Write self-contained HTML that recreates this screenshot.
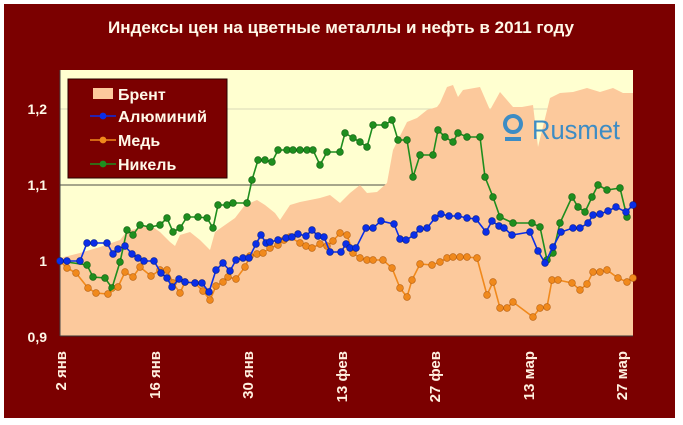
<!DOCTYPE html>
<html><head><meta charset="utf-8"><style>
html,body{margin:0;padding:0;background:#fff;}
svg{display:block;}
</style></head><body>
<svg width="683" height="425" viewBox="0 0 683 425" xmlns="http://www.w3.org/2000/svg" font-family="Liberation Sans, DejaVu Sans, sans-serif">
<defs>
<marker id="mb" markerWidth="8" markerHeight="8" refX="4" refY="4" markerUnits="userSpaceOnUse"><circle cx="4" cy="4" r="3.4" fill="#0a2ee8" stroke="#06208a" stroke-width="0.6"/></marker>
<marker id="mo" markerWidth="8" markerHeight="8" refX="4" refY="4" markerUnits="userSpaceOnUse"><circle cx="4" cy="4" r="3.4" fill="#f0891c" stroke="#b86010" stroke-width="0.6"/></marker>
<marker id="mg" markerWidth="8" markerHeight="8" refX="4" refY="4" markerUnits="userSpaceOnUse"><circle cx="4" cy="4" r="3.4" fill="#1e8e1e" stroke="#0f5e0f" stroke-width="0.6"/></marker>
</defs>
<rect x="0" y="0" width="683" height="425" fill="#fff"/>
<rect x="4" y="4" width="671" height="414" fill="#7b0000"/>
<text x="341" y="33" fill="#fff8e8" font-size="17" font-weight="bold" text-anchor="middle" textLength="466" lengthAdjust="spacingAndGlyphs">Индексы цен на цветные металлы и нефть в 2011 году</text>
<rect x="60" y="70" width="573" height="266" fill="#ffffd0"/>
<line x1="60" y1="109" x2="633" y2="109" stroke="#d8d8b8" stroke-width="1"/>
<line x1="60" y1="185" x2="633" y2="185" stroke="#707060" stroke-width="1.2"/>
<polygon fill="#fcc99c" points="60,336 60,258 80,253 100,247 120,240 127,231 140,228 150,225 160,232 170,242 175,246 180,235 190,232 200,240 210,250 215,232 225,225 235,218 245,205 257,200 265,205 275,213 280,220 290,205 300,202 310,200 320,198 330,195 340,203 350,193 360,185 367,193 377,192 387,183 393,150 407,122 417,118 427,110 437,107 440,103 447,87 453,85 458,97 463,90 480,87 490,110 500,92 513,107 522,107 533,105 538,147 550,98 560,93 573,92 587,88 600,92 613,88 623,93 633,93 633,336"/>
<line x1="60" y1="336" x2="633" y2="336" stroke="#333" stroke-width="1"/>
<line x1="60" y1="70" x2="60" y2="336" stroke="#444" stroke-width="1"/>
<g font-size="14" fill="#fff8e8" font-weight="bold" text-anchor="end">
<text x="47" y="114">1,2</text><text x="47" y="190">1,1</text><text x="47" y="266">1</text><text x="47" y="342">0,9</text>
</g>
<g font-size="15" fill="#fff0e0" font-weight="bold" text-anchor="end">
<text transform="translate(66,351) rotate(-90)">2 янв</text>
<text transform="translate(160,351) rotate(-90)">16 янв</text>
<text transform="translate(253,351) rotate(-90)">30 янв</text>
<text transform="translate(347,351) rotate(-90)">13 фев</text>
<text transform="translate(440,351) rotate(-90)">27 фев</text>
<text transform="translate(534,351) rotate(-90)">13 мар</text>
<text transform="translate(627,351) rotate(-90)">27 мар</text>
</g>
<!-- Rusmet logo -->
<circle cx="513" cy="124" r="8" fill="none" stroke="#3d8cc4" stroke-width="4"/>
<rect x="505" y="137" width="16" height="4" fill="#3d8cc4"/>
<text x="532" y="139" font-size="27" fill="#3d8cc4" textLength="88" lengthAdjust="spacingAndGlyphs">Rusmet</text>
<!-- nickel -->
<polyline fill="none" stroke="#1e8e1e" stroke-width="1.6" marker-start="url(#mg)" marker-mid="url(#mg)" marker-end="url(#mg)" points="60,261 87,265 93,277 105,278 112,288 120,262 127,230 133,235 140,225 150,227 160,225 167,218 173,232 180,228 187,217 198,217 207,218 213,228 218,205 227,205 233,203 247,203 252,180 258,160 265,160 272,162 278,150 287,150 293,150 300,150 307,150 313,150 320,165 327,152 340,152 345,133 353,138 360,142 367,147 373,125 385,125 392,120 398,140 407,140 413,177 420,155 433,155 438,130 445,137 453,142 458,133 467,137 480,137 485,177 493,197 500,217 513,223 532,223 540,227 547,260 553,253 560,223 572,197 578,207 585,212 592,197 598,185 607,190 620,188 627,217"/>
<!-- copper -->
<polyline fill="none" stroke="#f0891c" stroke-width="1.6" marker-start="url(#mo)" marker-mid="url(#mo)" marker-end="url(#mo)" points="60,261 67,268 76,273 88,288 96,293 108,294 118,287 125,272 133,277 140,267 151,276 160,270 167,270 173,283 180,293 185,282 195,283 203,291 210,300 216,286 223,282 228,277 236,279 245,267 250,256 257,254 263,253 270,248 278,245 284,240 290,237 300,243 306,246 312,248 320,244 327,246 333,241 340,233 347,235 353,253 360,258 367,260 373,260 383,260 392,268 400,288 407,297 412,280 420,264 432,265 440,262 447,258 453,257 460,257 467,257 477,258 487,295 493,282 500,308 507,308 513,302 533,317 540,308 547,307 552,280 558,280 572,283 580,290 587,284 593,272 600,272 607,270 618,278 627,282 633,278"/>
<!-- aluminium -->
<polyline fill="none" stroke="#0a2ee8" stroke-width="1.6" marker-start="url(#mb)" marker-mid="url(#mb)" marker-end="url(#mb)" points="60,261 67,261 80,261 87,243 94,243 107,243 113,254 118,249 125,246 132,254 138,258 144,261 154,261 161,273 167,278 172,287 179,279 185,282 195,283 202,283 209,292 216,270 223,263 230,271 236,260 243,258 249,258 256,244 261,235 266,243 270,242 278,240 286,238 292,237 298,234 306,236 312,230 318,236 324,237 330,252 341,252 346,244 350,248 356,248 366,228 373,228 381,221 394,224 400,239 406,240 414,235 420,229 427,228 435,218 441,214 449,216 458,216 467,218 476,219 486,232 492,221 499,226 504,228 512,235 530,232 538,251 545,263 553,247 561,232 573,228 580,228 588,223 593,215 600,214 608,211 616,207 626,212 633,205"/>
<!-- legend -->
<rect x="68" y="79" width="159" height="99" fill="#7b0000" stroke="#2a0000" stroke-width="1"/>
<g font-size="16" font-weight="bold" fill="#fff8e8">
<rect x="93" y="88" width="20" height="11" fill="#fcc99c"/>
<text x="118" y="100">Брент</text>
<line x1="90" y1="116" x2="116" y2="116" stroke="#0a2ee8" stroke-width="1.6"/><circle cx="103" cy="116" r="3.4" fill="#0a2ee8"/>
<text x="118" y="122" textLength="89" lengthAdjust="spacingAndGlyphs">Алюминий</text>
<line x1="90" y1="140" x2="116" y2="140" stroke="#f0891c" stroke-width="1.6"/><circle cx="103" cy="140" r="3.4" fill="#f0891c"/>
<text x="118" y="146">Медь</text>
<line x1="90" y1="164" x2="116" y2="164" stroke="#1e8e1e" stroke-width="1.6"/><circle cx="103" cy="164" r="3.4" fill="#1e8e1e"/>
<text x="118" y="170">Никель</text>
</g>
</svg>
</body></html>
